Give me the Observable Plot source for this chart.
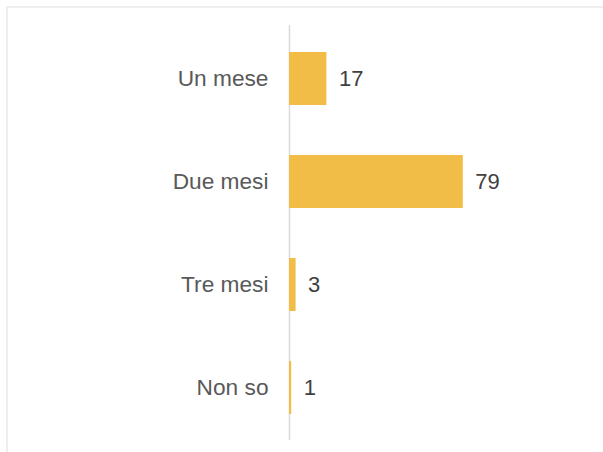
<!DOCTYPE html>
<html>
<head>
<meta charset="utf-8">
<script src="https://cdn.jsdelivr.net/npm/d3@7"></script>
<script src="https://cdn.jsdelivr.net/npm/@observablehq/plot@0.6"></script>
<style>
  html, body { margin: 0; padding: 0; background: #fff; }
  #wrap { position: relative; width: 603px; height: 452px; overflow: hidden; }
  #frame { position: absolute; left: 6px; top: 6px; width: 620px; height: 470px;
           border-top: 2px solid #eeeeee; border-left: 2px solid #eeeeee; pointer-events: none; }
  svg { display: block; }
</style>
</head>
<body>
<div id="wrap"><div id="frame"></div></div>
<script>
const categories = ["Un mese", "Due mesi", "Tre mesi", "Non so"];
const values = [17, 79, 3, 1];

const data = categories.map((c, i) => ({category: c, value: values[i]}));

const chart = Plot.plot({
  width: 603,
  height: 452,
  marginLeft: 289,
  marginRight: 94,
  marginTop: 25,
  marginBottom: 12,
  style: {fontFamily: "'Liberation Sans', Arial, sans-serif", fontSize: "22px", color: "#595959", background: "transparent"},
  x: {domain: [0, 100], axis: null},
  y: {domain: categories, padding: 0, label: null},
  marks: [
    Plot.ruleX([0], {stroke: "#d9d9d9", strokeWidth: 1.5}),
    Plot.barX(data, {x: "value", y: "category", fill: "#F1BD46", insetTop: 25, insetBottom: 25}),
    Plot.text(data, {x: "value", y: "category", text: d => String(d.value), textAnchor: "start", dx: 12, fill: "#404040", fontSize: 22}),
    Plot.axisY({tickSize: 0, tickPadding: 21, fontSize: 22.7, fill: "#595959", label: null})
  ]
});
document.getElementById("wrap").appendChild(chart);
</script>
</body>
</html>
